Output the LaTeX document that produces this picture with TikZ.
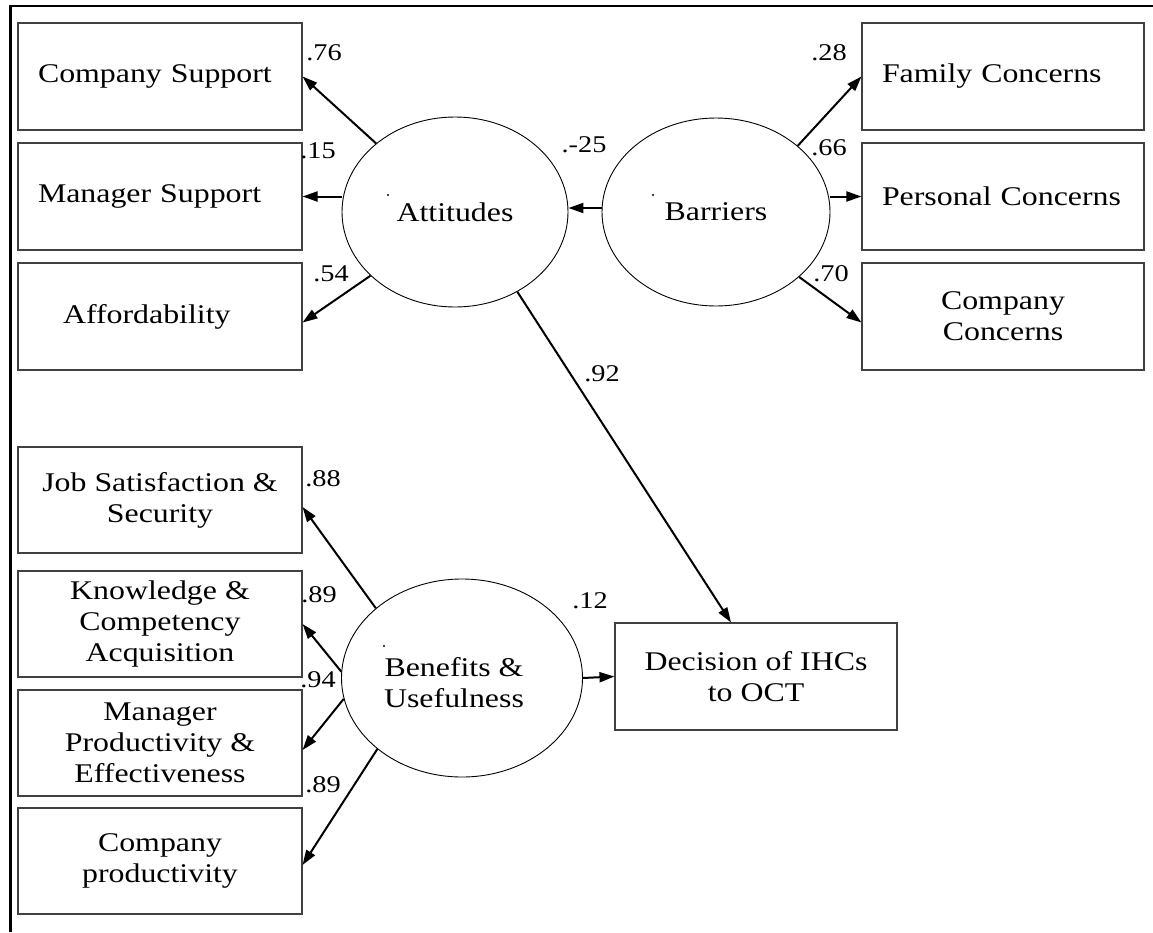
\documentclass[tikz,border=0pt]{standalone}
\usepackage{fontspec}
\setmainfont{Liberation Serif}[FakeStretch=1.18]
\usetikzlibrary{arrows.meta,shapes.geometric,calc}

\begin{document}
\begin{tikzpicture}[x=1pt,y=-1pt,
  box/.style={draw=black!75, line width=1.1pt, rectangle, inner sep=0pt,
    minimum width=284pt, minimum height=107pt,
    font=\fontsize{27}{31}\selectfont, align=center},
  lbox/.style={box, text width=244pt, align=left},
  latent/.style={draw, ellipse, line width=0.9pt, inner sep=0pt,
    font=\fontsize{27}{31}\selectfont, align=center},
  coef/.style={inner sep=0pt, font=\fontsize{24}{28}\selectfont},
  load/.style={line width=2pt, -{Triangle[length=15pt,width=10pt]}},
  frame/.style={line width=2.6pt}]

\useasboundingbox (0,0) rectangle (1153,932);

% frame on top and left
\draw[frame] (1153,6) -- (10.5,6) -- (10.5,932);

% attitude indicators
\node[lbox] (cs) at (160,76.5)  {Company Support};
\node[lbox] (ms) at (160,196.5) {Manager Support};
\node[lbox] (af) at (160,316.5) {\hspace*{25pt}Affordability};

% barrier indicators
\node[lbox, minimum width=282pt, text width=242pt] (fc) at (1003,76.5)  {Family Concerns};
\node[lbox, minimum width=282pt, text width=242pt] (pc) at (1003,196.5) {Personal Concerns};
\node[box, minimum width=282pt] (cc) at (1003,316.5) {Company\\Concerns};

% benefit indicators
\node[box, minimum height=106pt] (js) at (160,500) {Job Satisfaction \&\\Security};
\node[box, minimum height=106pt] (kn) at (160,624) {Knowledge \&\\Competency\\Acquisition};
\node[box, minimum height=106pt] (mp) at (160,743) {Manager\\Productivity \&\\Effectiveness};
\node[box, minimum height=106pt] (cp) at (160,861) {Company\\productivity};

% outcome
\node[box, minimum width=282pt] (dec) at (756,676.5) {Decision of IHCs\\to OCT};

% latent constructs
\node[latent, minimum width=226pt, minimum height=190pt] (att) at (455,212) {Attitudes};
\node[latent, minimum width=228pt, minimum height=188pt] (bar) at (716,212) {Barriers};
\node[latent, minimum width=241pt, minimum height=198pt] (ben) at (462,678) {};
\node[inner sep=0pt, font=\fontsize{27}{31}\selectfont, align=center] (bentxt) at (454,683) {Benefits \&\\Usefulness};

% small marks inside the ellipses
\fill (388,195) circle (1.1pt);
\fill (653,195) circle (1.1pt);
\fill (384,646) circle (1.1pt);

% paths
\draw[load] (att.139) -- (cs.east);
\draw[load] (ms.east -| att.west) -- (ms.east);
\draw[load] (att.217) -- ($(af.east)+(0,6)$);
\draw[load] (bar.39) -- (fc.west);
\draw[load] (pc.west -| bar.east) -- (pc.west);
\draw[load] (bar.-38) -- ($(cc.west)+(0,6)$);
\coordinate (ba) at ($(bar.west)+(0,-4)$);
\draw[load] (ba) -- (ba -| att.east);
\draw[load] (att.-52) -- ($(dec.north)+(-25,0)$);
\draw[load] (ben.141) -- ($(js.east)+(0,7)$);
\draw[load] (ben.177) -- (kn.east);
\draw[load] (ben.190) -- ($(mp.east)+(0,7)$);
\draw[load] (ben.220) -- ($(cp.east)+(0,4)$);
\draw[load] (ben.east) -- (dec.west);

% coefficients
\node[coef] (c76) at (324,53)  {.76};
\node[coef] (c15) at (318,151) {.15};
\node[coef] (c54) at (331,274) {.54};
\node[coef] (c28) at (829,53)  {.28};
\node[coef] (c66) at (829,148) {.66};
\node[coef] (c70) at (831,274) {.70};
\node[coef] (c25) at (584,145) {.-25};
\node[coef] (c92) at (602,374) {.92};
\node[coef] (c12) at (590,601) {.12};
\node[coef] (c88) at (323,479) {.88};
\node[coef] (c89a) at (319,595) {.89};
\node[coef] (c94) at (318,680) {.94};
\node[coef] (c89b) at (323,785) {.89};
\end{tikzpicture}
\end{document}
